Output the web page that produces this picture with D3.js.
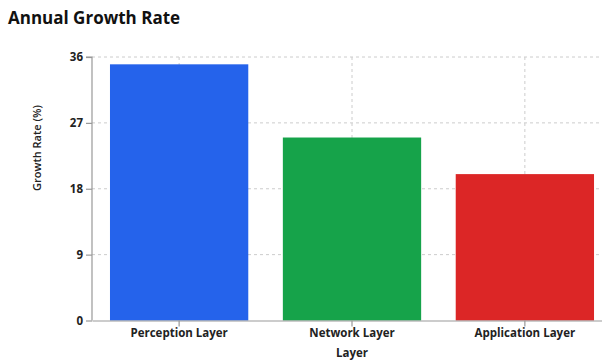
<!DOCTYPE html>
<html><head><meta charset="utf-8">
<script src="https://cdn.jsdelivr.net/npm/d3@7"></script>
<style>body{margin:0;background:#fff;overflow:hidden}svg{display:block;font-family:"Open Sans",sans-serif}</style>
</head><body><svg id="c" width="602" height="361"></svg>
<script>
const categories = ["Perception Layer", "Network Layer", "Application Layer"];
const values = [35, 25, 20];
const colors = ["#2563eb", "#16a34a", "#dc2626"];
const yTicks = [0, 9, 18, 27, 36];

const svg = d3.select("#c");
const m = {left: 92, top: 57, bottom: 320.5, right: 612};
const x = d3.scaleBand().domain(categories).range([m.left, m.right]).paddingInner(0.2).paddingOuter(0.104);
const y = d3.scaleLinear().domain([0, 36]).range([m.bottom, m.top]);

svg.append("text").attr("x", 8).attr("y", 24).attr("font-size", 17).attr("font-weight", 700).attr("fill", "#111").text("Annual Growth Rate");

// grid
const g = svg.append("g");
g.selectAll(".hg").data(yTicks.filter(d => d > 0)).join("line")
  .attr("x1", m.left).attr("x2", m.right).attr("y1", d => y(d)).attr("y2", d => y(d))
  .attr("stroke", "#ccc").attr("stroke-dasharray", "3,3");
g.selectAll(".vg").data(categories).join("line")
  .attr("x1", d => x(d) + x.bandwidth() / 2).attr("x2", d => x(d) + x.bandwidth() / 2)
  .attr("y1", m.top).attr("y2", m.bottom)
  .attr("stroke", "#ccc").attr("stroke-dasharray", "3,3");

// bars
svg.selectAll(".bar").data(categories).join("rect")
  .attr("x", d => x(d)).attr("width", x.bandwidth())
  .attr("y", (d, i) => y(values[i])).attr("height", (d, i) => y(0) - y(values[i]))
  .attr("fill", (d, i) => colors[i]);

// axes
const ya = svg.append("g").attr("transform", `translate(${m.left},0)`)
  .call(d3.axisLeft(y).tickValues(yTicks).tickSize(6).tickPadding(3));
const xa = svg.append("g").attr("transform", `translate(0,${m.bottom})`)
  .call(d3.axisBottom(x).tickSize(6).tickPadding(2).tickSizeOuter(0));
[ya, xa].forEach(a => {
  a.selectAll("path, line").attr("stroke", "#999").attr("stroke-width", 1.2);
  a.selectAll("text").attr("font-size", 11.5).attr("font-weight", 700).attr("fill", "#222").attr("font-family", '"Open Sans",sans-serif');
});
ya.select(".domain").attr("d", `M-6,${y(36)}H0V${y(0)}`);

svg.append("text").attr("transform", `translate(41,148) rotate(-90)`)
  .attr("text-anchor", "middle").attr("font-size", 11).attr("font-weight", 600).attr("fill", "#222").text("Growth Rate (%)");
svg.append("text").attr("x", 352).attr("y", 357).attr("text-anchor", "middle")
  .attr("font-size", 11.5).attr("font-weight", 700).attr("fill", "#222").text("Layer");
</script></body></html>
